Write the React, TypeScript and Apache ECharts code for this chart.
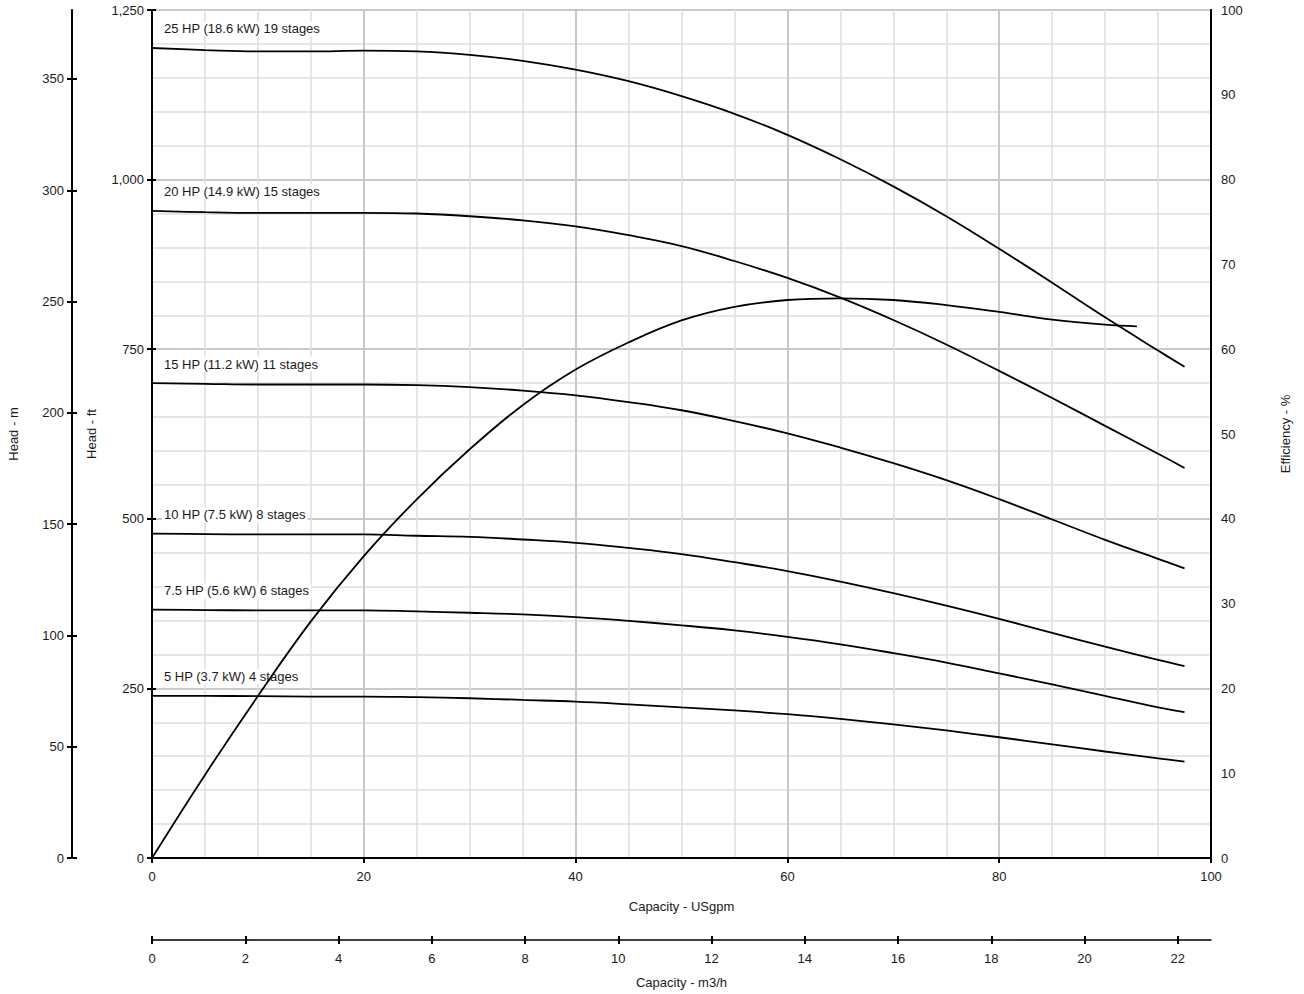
import React, { useEffect, useRef } from "react";
import * as echarts from "echarts";

// Capacity (USgpm) sample points
const gpm = [0, 5, 10, 15, 20, 25, 30, 35, 40, 45, 50, 55, 60, 65, 70, 75, 80, 85, 90, 95, 97.5];

// Head (ft) per model
const head25 = [1194, 1191, 1189, 1189, 1190, 1189, 1184, 1175, 1162, 1145, 1123, 1097, 1066, 1030, 990, 946, 898, 848, 797, 748, 724];
const head20 = [954, 952, 951, 951, 951, 950, 946, 940, 931, 918, 902, 880, 855, 826, 793, 757, 718, 678, 637, 596, 575];
const head15 = [700, 699, 698, 698, 698, 697, 694, 689, 682, 672, 660, 644, 626, 605, 582, 557, 529, 499, 469, 441, 427];
const head10 = [478, 477.5, 477, 477, 477, 475, 473.5, 469.5, 464.6, 457, 448, 436, 423, 407.5, 390.5, 372, 352.5, 332, 311.5, 292, 283];
const head75 = [366, 365.5, 365, 365, 365, 363.5, 361.5, 359, 355, 349.5, 343, 335.5, 326, 315, 302, 288, 272, 256, 239, 222, 215];
const head5 = [239, 239, 238.5, 238, 238, 237, 235.5, 233, 230.5, 226.5, 222, 217.5, 212, 205, 197, 188, 178, 167.5, 157, 147, 142];

// Efficiency (%)
const effGpm = [0, 5, 10, 15, 20, 25, 30, 35, 40, 45, 50, 55, 60, 65, 70, 75, 80, 85, 90, 93];
const effVal = [0, 9.8, 19.1, 27.9, 35.6, 42.3, 48.2, 53.4, 57.6, 60.8, 63.4, 65.0, 65.8, 66.0, 65.8, 65.2, 64.4, 63.5, 62.9, 62.7];

const curveNames = [
  "25 HP (18.6 kW) 19 stages",
  "20 HP (14.9 kW) 15 stages",
  "15 HP (11.2 kW) 11 stages",
  "10 HP (7.5 kW) 8 stages",
  "7.5 HP (5.6 kW) 6 stages",
  "5 HP (3.7 kW) 4 stages",
];
const curveHeads = [head25, head20, head15, head10, head75, head5];

const headMTicks = [0, 50, 100, 150, 200, 250, 300, 350];
const m3hTicks = [0, 2, 4, 6, 8, 10, 12, 14, 16, 18, 20, 22];

const FT_MAX = 1250;
const M_MAX = FT_MAX / 3.28084;
const GPM_MAX = 100;
const M3H_MAX = GPM_MAX * 0.2271247;

const FONT = "Liberation Sans, Arial, sans-serif";
const TXT = "#1a1a1a";

export default function App() {
  const ref = useRef<HTMLDivElement>(null);
  useEffect(() => {
    if (!ref.current) return;
    const chart = echarts.init(ref.current, undefined, { renderer: "svg" });
    const lineStyle = { color: "#000", width: 1.8 };
    const series: any[] = curveHeads.map((h, i) => ({
      name: curveNames[i],
      type: "line",
      xAxisIndex: 0,
      yAxisIndex: 0,
      data: gpm.map((g, k) => [g, h[k]]),
      smooth: 0.4,
      showSymbol: false,
      symbol: "none",
      lineStyle,
      z: 3,
    }));
    series.push({
      name: "Efficiency",
      type: "line",
      xAxisIndex: 0,
      yAxisIndex: 2,
      data: effGpm.map((g, k) => [g, effVal[k]]),
      smooth: 0.4,
      showSymbol: false,
      symbol: "none",
      lineStyle,
      z: 3,
    });

    const labelStyle = { color: TXT, fontFamily: FONT, fontSize: 13 };
    const blackLine = { show: true, onZero: false, lineStyle: { color: "#000", width: 2 } };

    chart.setOption({
      animation: false,
      textStyle: { fontFamily: FONT },
      grid: {
        left: 152,
        right: 93,
        top: 10,
        bottom: 136,
        show: true,
        borderColor: "#000",
        borderWidth: 2,
        backgroundColor: "transparent",
        outerBoundsMode: "none",
        containLabel: false,
      },
      xAxis: [
        {
          type: "value",
          min: 0,
          max: GPM_MAX,
          interval: 20,
          position: "bottom",
          axisLine: blackLine,
          axisTick: { show: true, length: 5, lineStyle: { color: "#000", width: 2 } },
          axisLabel: { ...labelStyle, margin: 12 },
          splitLine: { show: true, lineStyle: { color: "#c9c9c9", width: 2 } },
          minorTick: { show: false, splitNumber: 4 },
          minorSplitLine: { show: true, lineStyle: { color: "#dedede", width: 1.5 } },
          name: "Capacity - USgpm",
          nameLocation: "middle",
          nameGap: 42,
          nameTextStyle: { ...labelStyle },
        },
        {
          type: "value",
          min: 0,
          max: M3H_MAX,
          position: "bottom",
          offset: 82,
          axisLine: { show: true, onZero: false, lineStyle: { color: "#000", width: 1.5 } },
          axisTick: { show: true, length: 4, customValues: m3hTicks, lineStyle: { color: "#000", width: 2 } },
          axisLabel: { ...labelStyle, margin: 12, customValues: m3hTicks },
          splitLine: { show: false },
          name: "Capacity - m3/h",
          nameLocation: "middle",
          nameGap: 36,
          nameTextStyle: { ...labelStyle },
        },
        {
          type: "value",
          min: 0,
          max: M3H_MAX,
          position: "bottom",
          offset: 82,
          axisLine: { show: false, onZero: false },
          axisTick: { show: true, inside: true, length: 4, customValues: m3hTicks, lineStyle: { color: "#000", width: 2 } },
          axisLabel: { show: false },
          splitLine: { show: false },
        },
      ],
      yAxis: [
        {
          type: "value",
          min: 0,
          max: FT_MAX,
          interval: 250,
          position: "left",
          axisLine: blackLine,
          axisTick: { show: true, length: 5, lineStyle: { color: "#000", width: 2 } },
          axisLabel: {
            ...labelStyle,
            margin: 8,
            formatter: (v: number) => v.toLocaleString("en-US"),
          },
          splitLine: { show: true, lineStyle: { color: "#c9c9c9", width: 2 } },
          minorTick: { show: false, splitNumber: 5 },
          minorSplitLine: { show: true, lineStyle: { color: "#dedede", width: 1.5 } },
          name: "Head - ft",
          nameLocation: "middle",
          nameGap: 54,
          nameRotate: 90,
          nameTextStyle: { ...labelStyle },
        },
        {
          type: "value",
          min: 0,
          max: M_MAX,
          position: "left",
          offset: 80,
          axisLine: blackLine,
          axisTick: { show: true, length: 5, customValues: headMTicks, lineStyle: { color: "#000", width: 2 } },
          axisLabel: { ...labelStyle, margin: 8, customValues: headMTicks },
          splitLine: { show: false },
          name: "Head - m",
          nameLocation: "middle",
          nameGap: 52,
          nameRotate: 90,
          nameTextStyle: { ...labelStyle },
        },
        {
          type: "value",
          min: 0,
          max: 100,
          interval: 10,
          position: "right",
          axisLine: blackLine,
          axisTick: { show: false },
          axisLabel: { ...labelStyle, margin: 10 },
          splitLine: { show: false },
          name: "Efficiency - %",
          nameLocation: "middle",
          nameGap: 68,
          nameRotate: 90,
          nameTextStyle: { ...labelStyle },
        },
        {
          type: "value",
          min: 0,
          max: FT_MAX,
          interval: 250,
          position: "left",
          axisLine: { show: false, onZero: false },
          axisTick: { show: true, inside: true, length: 4, lineStyle: { color: "#000", width: 2 } },
          axisLabel: { show: false },
          splitLine: { show: false },
        },
        {
          type: "value",
          min: 0,
          max: M_MAX,
          position: "left",
          offset: 80,
          axisLine: { show: false, onZero: false },
          axisTick: { show: true, inside: true, length: 5, customValues: headMTicks, lineStyle: { color: "#000", width: 2 } },
          axisLabel: { show: false },
          splitLine: { show: false },
        },
      ],
      series,
    });

    const graphics = curveHeads.map((h, i) => {
      const p = chart.convertToPixel({ xAxisIndex: 0, yAxisIndex: 0 }, [gpm[0], h[0]]) as number[];
      return {
        type: "text",
        x: p[0] + 10,
        y: p[1] - 19,
        z: 1,
        style: {
          text: curveNames[i],
          fill: TXT,
          font: `13px ${FONT}`,
          verticalAlign: "middle",
          align: "left",
          backgroundColor: "#fff",
          padding: [1, 2],
        },
      };
    });
    chart.setOption({ graphic: graphics });

    return () => chart.dispose();
  }, []);
  return (
    <div
      ref={ref}
      style={{ position: "fixed", left: 0, top: 0, width: 1304, height: 994, background: "#fff" }}
    />
  );
}
